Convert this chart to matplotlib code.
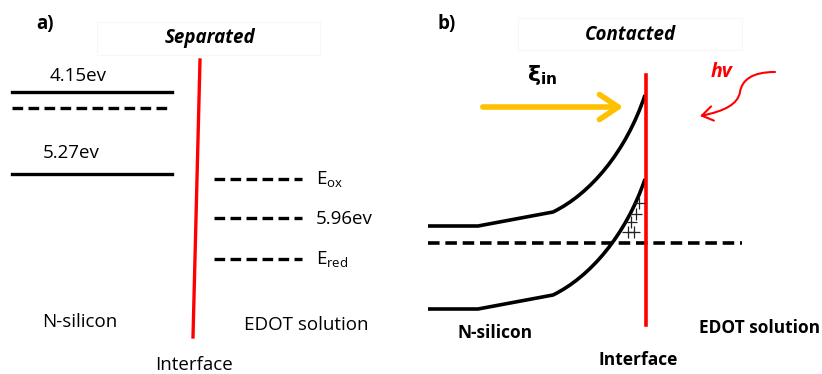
import matplotlib.pyplot as plt
from matplotlib.path import Path
from matplotlib.patches import PathPatch, FancyArrowPatch, Rectangle

# canvas in pixel units (y grows downward)
W, H = 822, 374

# ── panel a: separated ──
a_solid_y = [92, 174]
a_dash_y = [108]
a_si_x = (12, 172)
a_sol_y = [179, 218, 259]
a_sol_x = (214, 302)
a_sol_labels = [r"E$_{\mathregular{ox}}$", "5.96ev", r"E$_{\mathregular{red}}$"]
a_iface = [(200, 60), (193, 337)]

# ── panel b: contacted ──
b_cb = [(428, 226), (478, 226), (553, 212), (590, 194), (626, 152), (645, 95)]
b_vb = [(428, 309), (478, 309), (553, 295), (590, 277), (626, 235), (645, 179)]
b_fermi_y = 243
b_fermi_x = (428, 742)
b_iface_x = 646
b_iface_y = (75, 325)
b_holes_x = [639, 636, 631, 628, 634]
b_holes_y = [203, 214, 222, 232, 232]
b_photon = [(775, 72), (752, 72), (742, 80), (740, 92), (738, 104), (725, 111), (700, 116)]

fig = plt.figure(figsize=(W / 100, H / 100), dpi=100)
ax = fig.add_axes([0, 0, 1, 1])
ax.set_xlim(0, W)
ax.set_ylim(H, 0)
ax.axis("off")

FONT = "Open Sans"
FS = 13.5

# faint title boxes (barely visible in the original)
ax.add_patch(Rectangle((97, 22), 223, 33, fill=False, edgecolor="#f7f7f7", lw=0.8))
ax.add_patch(Rectangle((518, 18), 224, 32, fill=False, edgecolor="#f7f7f7", lw=0.8))

# panel a
for y in a_solid_y:
    ax.plot(a_si_x, [y, y], color="black", lw=2.4)
for y in a_dash_y:
    ax.plot(a_si_x, [y, y], color="black", lw=2.4, ls=(0, (3.2, 1.6)))
for y, lab in zip(a_sol_y, a_sol_labels):
    ax.plot(a_sol_x, [y, y], color="black", lw=2.4, ls=(0, (3.2, 1.6)))
    ax.text(316, y + 1, lab, fontsize=FS, family=FONT, va="center", ha="left")
ax.plot(*zip(*a_iface), color="red", lw=2.4)

ax.text(78, 76, "4.15ev", fontsize=FS, family=FONT, ha="center", va="center")
ax.text(71, 153, "5.27ev", fontsize=FS, family=FONT, ha="center", va="center")
ax.text(45, 24, "a)", fontsize=FS, family=FONT, weight="bold", ha="center", va="center")
ax.text(210, 38, "Separated", fontsize=FS, family=FONT, weight="bold", style="italic",
        ha="center", va="center")
ax.text(80, 322, "N-silicon", fontsize=FS, family=FONT, ha="center", va="center")
ax.text(306, 325, "EDOT solution", fontsize=FS, family=FONT, ha="center", va="center")
ax.text(194, 365, "Interface", fontsize=FS, family=FONT, ha="center", va="center")

# panel b
def band(pts):
    codes = [Path.MOVETO, Path.LINETO, Path.LINETO, Path.CURVE4, Path.CURVE4, Path.CURVE4]
    return PathPatch(Path(pts, codes), fill=False, lw=2.6, edgecolor="black", capstyle="butt")

ax.add_patch(band(b_cb))
ax.add_patch(band(b_vb))
ax.plot(b_fermi_x, [b_fermi_y, b_fermi_y], color="black", lw=2.6, ls=(0, (3.2, 1.6)))
ax.plot([b_iface_x, b_iface_x], b_iface_y, color="red", lw=2.6)
ax.plot(b_holes_x, b_holes_y, ls="none", marker="+", ms=9, mew=0.9, color="#222222")

ax.add_patch(FancyArrowPatch((480, 107), (626, 107), arrowstyle="->,head_length=9,head_width=6",
                             color="#FFC000", lw=4, mutation_scale=1.5))
ax.text(542, 75, r"$\mathbf{\xi}_{\mathbf{in}}$", fontsize=16, ha="center", va="center")

photon_codes = [Path.MOVETO, Path.CURVE4, Path.CURVE4, Path.CURVE4, Path.CURVE4, Path.CURVE4, Path.CURVE4]
ax.add_patch(FancyArrowPatch(path=Path(b_photon, photon_codes),
                             arrowstyle="->,head_length=6,head_width=4", color="red", lw=1.5,
                             mutation_scale=1.3))
ax.text(722, 72, "hv", fontsize=14, family=FONT, weight="bold", style="italic",
        color="red", ha="center", va="center")

ax.text(437, 24, "b)", fontsize=FS, family=FONT, weight="bold", ha="left", va="center")
ax.text(630, 35, "Contacted", fontsize=FS, family=FONT, weight="bold", style="italic",
        ha="center", va="center")
ax.text(495, 333, "N-silicon", fontsize=12.5, family=FONT, weight="bold", ha="center", va="center")
ax.text(760, 328, "EDOT solution", fontsize=12.5, family=FONT, weight="bold", ha="center", va="center")
ax.text(638, 360, "Interface", fontsize=12.5, family=FONT, weight="bold", ha="center", va="center")

fig.savefig("out.png", dpi=100, facecolor="white")
